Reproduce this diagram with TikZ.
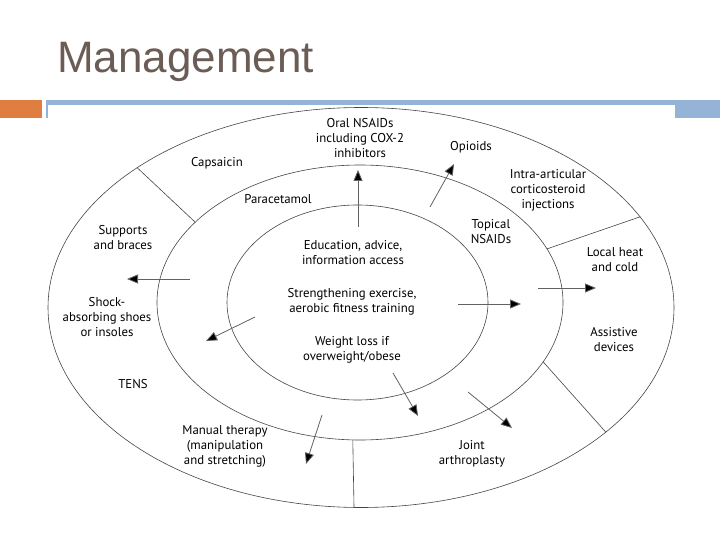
\documentclass[tikz,border=0pt]{standalone}
\usepackage{fontspec}
\setmainfont{Liberation Sans}
\newfontfamily\lblfont{PT Sans}
\usetikzlibrary{arrows.meta,shapes.geometric}
\definecolor{titlecol}{RGB}{107,93,85}
\definecolor{orangebar}{RGB}{224,126,66}
\definecolor{bluebar}{RGB}{149,179,215}
\definecolor{linecol}{RGB}{70,70,70}
\tikzset{
  ring/.style={ellipse, draw=linecol, line width=0.6pt, inner sep=0pt},
  divider/.style={draw=linecol, line width=0.6pt},
  arr/.style={draw=linecol!85, line width=0.8pt, -{Triangle[length=11pt,width=9pt,fill=black]}},
  lbl/.style={align=center, inner sep=0pt, font=\lblfont\fontsize{12.8}{15}\selectfont, text=black},
}
\begin{document}
\begin{tikzpicture}[x=1pt,y=-1pt]
\useasboundingbox (0,0) rectangle (720,540);
\fill[white] (0,0) rectangle (720,540);
% header bars
\fill[orangebar] (0,100) rectangle (42,118);
\fill[bluebar] (46,100) rectangle (720,105);
\fill[bluebar] (46,100) rectangle (48,118);
\fill[bluebar] (675,100) rectangle (720,118);
\node[anchor=base west, inner sep=0pt, text=titlecol, font=\fontsize{44}{50}\selectfont] (title) at (57,73) {Management};
% rings
\node[ring, minimum width=626pt, minimum height=400pt] (outer) at (361,307.5) {};
\node[ring, minimum width=406pt, minimum height=275pt] (middle) at (360,302.5) {};
\node[ring, minimum width=261pt, minimum height=195pt] (inner) at (357.5,302.5) {};
% dividers
\draw[divider] (outer.148.7) -- (middle.154.3);
\draw[divider] (middle.16.2) -- (outer.18.3);
\draw[divider] (middle.-18.9) -- (outer.-27.0);
\draw[divider] (middle.-93.3) -- (outer.-92.6);
% labels
\node[lbl] (oral) at (360,138) {Oral NSAIDs\\including COX-2\\inhibitors};
\node[lbl] (opioids) at (471,147) {Opioids};
\node[lbl] (caps) at (217,163) {Capsaicin};
\node[lbl] (intra) at (548,190) {Intra-articular\\corticosteroid\\injections};
\node[lbl] (para) at (278,199) {Paracetamol};
\node[lbl] (topical) at (491,232) {Topical\\NSAIDs};
\node[lbl] (supports) at (123,238) {Supports\\and braces};
\node[lbl] (edu) at (353,253) {Education, advice,\\information access};
\node[lbl] (heat) at (615,260) {Local heat\\and cold};
\node[lbl] (strength) at (352,302) {Strengthening exercise,\\aerobic fitness training};
\node[lbl] (shock) at (107,317) {Shock-\\absorbing shoes\\or insoles};
\node[lbl] (assist) at (614,340) {Assistive\\devices};
\node[lbl] (weight) at (352,350) {Weight loss if\\overweight/obese};
\node[lbl] (tens) at (133,384) {TENS};
\node[lbl] (manual) at (225,446) {Manual therapy\\(manipulation\\and stretching)};
\node[lbl] (joint) at (472,454) {Joint\\arthroplasty};
% arrows
\coordinate (s1) at (358,227); \coordinate (e1) at (358,170);
\coordinate (s2) at (430,207); \coordinate (e2) at (454,164);
\coordinate (s3) at (190,279); \coordinate (e3) at (127,279);
\coordinate (s4) at (255,317); \coordinate (e4) at (206,341);
\coordinate (s5) at (458,304); \coordinate (e5) at (521,304);
\coordinate (s6) at (538,288); \coordinate (e6) at (596,288);
\coordinate (s7) at (393,373); \coordinate (e7) at (418,416);
\coordinate (s8) at (468,392); \coordinate (e8) at (512,428);
\coordinate (s9) at (322,415); \coordinate (e9) at (306,464);
\foreach \i in {1,...,9} {\draw[arr] (s\i) -- (e\i);}
\end{tikzpicture}
\end{document}
